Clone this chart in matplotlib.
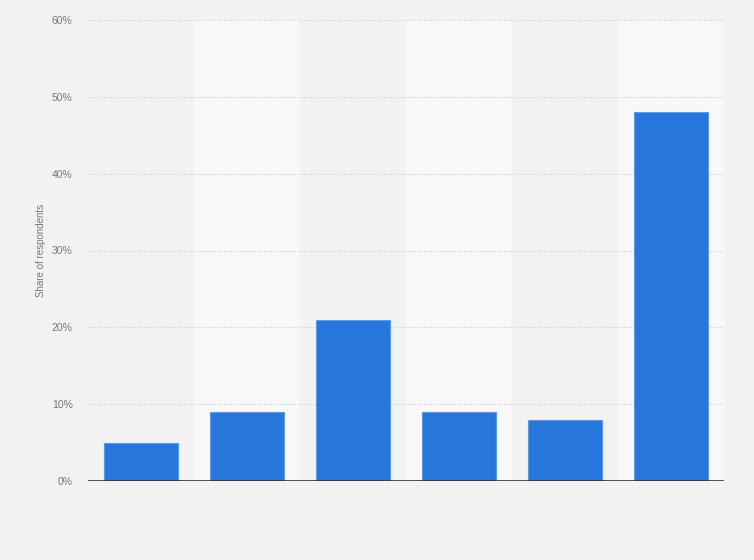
import matplotlib.pyplot as plt
import numpy as np

plt.rcParams['font.family'] = ['Liberation Sans', 'DejaVu Sans']

# Data (share of respondents, %)
categories = ['', '', '', '', '', '']
shares = [5, 9, 21, 9, 8, 48]
ytick_values = [0, 10, 20, 30, 40, 50, 60]

bg = '#f2f2f2'
band = '#f8f8f8'
bar_color = '#2776dc'

fig = plt.figure(figsize=(7.54, 5.6), dpi=100, facecolor=bg)
ax = fig.add_axes([88 / 754, (560 - 481) / 560, (724 - 88) / 754, (481 - 20) / 560])
ax.set_facecolor(bg)

x = np.arange(len(shares))

# alternating column bands
for i in x:
    if i % 2 == 1:
        ax.axvspan(i - 0.5, i + 0.5, color=band, zorder=0, lw=0)

# dotted grid lines
for v in ytick_values[1:]:
    ax.axhline(v, color='#d6d6d6', lw=0.8, ls=(0, (1, 1)), zorder=1)

ax.bar(x, shares, width=0.69, color=bar_color, edgecolor='#5b9be6', linewidth=0.8, zorder=2)
ax.axhline(0, color='#333333', lw=1.2, zorder=3)

ax.set_xlim(-0.5, len(shares) - 0.5)
ax.set_ylim(0, 60)
ax.set_xticks(x)
ax.set_xticklabels(categories)
ax.set_yticks(ytick_values)
ax.set_yticklabels([f'{v}%' for v in ytick_values])
ax.tick_params(axis='both', length=0, labelsize=7.5, labelcolor='#777777', pad=11)
for s in ax.spines.values():
    s.set_visible(False)

ax.set_ylabel('Share of respondents', fontsize=7, color='#777777', labelpad=4)

fig.savefig('out.png', dpi=100, facecolor=bg)
